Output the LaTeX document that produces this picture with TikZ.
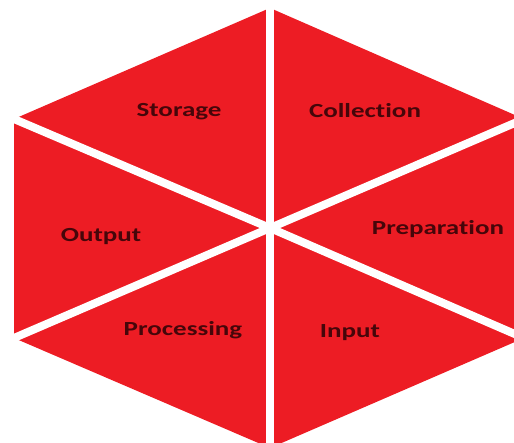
\documentclass[tikz,border=0pt]{standalone}
\usepackage{fontspec}
\setmainfont{Carlito}[Ligatures=NoCommon]
\usetikzlibrary{calc}
\definecolor{hexred}{RGB}{237,28,36}
\definecolor{darktext}{RGB}{70,6,10}
\newcommand{\widetext}[1]{\scalebox{1.35}[1]{#1}}

\begin{document}
\begin{tikzpicture}[x=1pt, y=-1pt,
    hexfill/.style={fill=hexred, draw=none},
    gap/.style={white, line width=8pt},
    stagename/.style={font=\fontsize{20}{24}\selectfont\bfseries, text=darktext}
]
    \useasboundingbox (0,0) rectangle (514,442);

    % Corners of the hexagon
    \coordinate (c) at (270,228);
    \coordinate (top) at (270,8);
    \coordinate (ur) at (524,119);
    \coordinate (lr) at (524,338);
    \coordinate (bot) at (270,448);
    \coordinate (ll) at (14,338);
    \coordinate (ul) at (14,119);

    \fill[hexfill] (top) -- (ur) -- (lr) -- (bot) -- (ll) -- (ul) -- cycle;

    % White gaps between the six parts
    \foreach \v in {top,ur,lr,bot,ll,ul}
        \draw[gap] (c) -- ($(c)!1.1!(\v)$);

    % Stage names
    \node[stagename] (storage) at (179,112) {\widetext{Storage}};
    \node[stagename] (collection) at (365,111) {\widetext{Collection}};
    \node[stagename] (preparation) at (438,229) {\widetext{Preparation}};
    \node[stagename] (input) at (350,333) {\widetext{Input}};
    \node[stagename] (processing) at (183,330) {\widetext{Processing}};
    \node[stagename] (output) at (101,237) {\widetext{Output}};
\end{tikzpicture}
\end{document}
